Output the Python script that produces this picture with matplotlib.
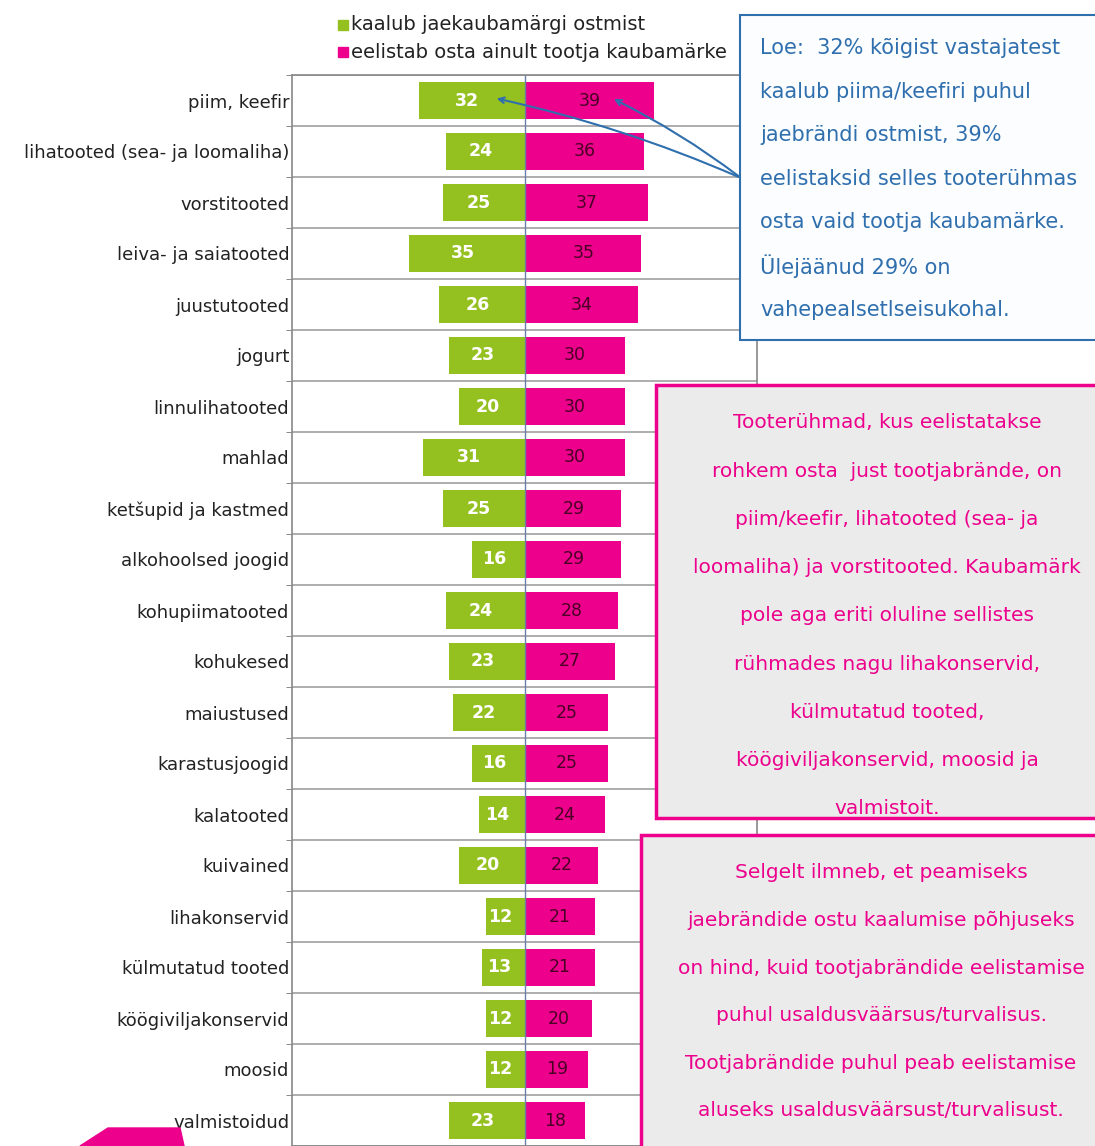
import matplotlib.pyplot as plt
import matplotlib.patches as patches
import numpy as np

plt.rcParams['font.family'] = 'DejaVu Sans'

categories = ["piim, keefir", "lihatooted (sea- ja loomaliha)", "vorstitooted",
              "leiva- ja saiatooted", "juustutooted", "jogurt", "linnulihatooted",
              "mahlad", "ketšupid ja kastmed", "alkohoolsed joogid", "kohupiimatooted",
              "kohukesed", "maiustused", "karastusjoogid", "kalatooted", "kuivained",
              "lihakonservid", "külmutatud tooted", "köögiviljakonservid", "moosid",
              "valmistoidud"]
store_brand = [32, 24, 25, 35, 26, 23, 20, 31, 25, 16, 24, 23, 22, 16, 14, 20, 12, 13, 12, 12, 23]
producer_brand = [39, 36, 37, 35, 34, 30, 30, 30, 29, 29, 28, 27, 25, 25, 24, 22, 21, 21, 20, 19, 18]
legend_labels = ["kaalub jaekaubamärgi ostmist", "eelistab osta ainult tootja kaubamärke"]

GREEN = '#94c11f'
PINK = '#ec008c'
BLUE = '#2f6fae'
W, H = 1095, 1146


def fx(x):
    return x / W


def fy(y):
    return 1 - y / H


fig = plt.figure(figsize=(W / 100, H / 100), dpi=100)
ax = fig.add_axes([fx(292), 0, fx(757) - fx(292), fy(75)])

y = np.arange(len(categories))
ax.barh(y, -np.array(store_brand), height=0.72, color=GREEN, zorder=2)
ax.barh(y, producer_brand, height=0.72, color=PINK, zorder=2)

for i, (g, p) in enumerate(zip(store_brand, producer_brand)):
    ax.text(-g / 2 - 1.5, i, str(g), ha='center', va='center', color='white',
            fontsize=12.5, fontweight='bold', zorder=3)
    ax.text(p / 2, i, str(p), ha='center', va='center', color='#4a0025',
            fontsize=12.5, zorder=3)

ax.set_xlim(-70.5, 70)
ax.set_ylim(len(categories) - 0.5, -0.5)
ax.set_yticks(y)
ax.set_yticklabels(categories, fontsize=13, color='#222222')
ax.set_yticks(np.arange(len(categories) + 1) - 0.5, minor=True)
ax.tick_params(axis='y', which='major', length=0, pad=2)
ax.tick_params(axis='y', which='minor', length=4, color='#777777')
ax.set_xticks([])
ax.grid(axis='y', which='minor', color='#a0a0a0', linewidth=1.2, zorder=1)
ax.axvline(0, color='#6a7fa8', linewidth=1, zorder=2.5)
for s in ax.spines.values():
    s.set_color('#888888')
    s.set_linewidth(1.2)

# legend
fig.add_artist(patches.Rectangle((fx(338), fy(30)), fx(10), 10 / H, color=GREEN,
                                 transform=fig.transFigure))
fig.add_artist(patches.Rectangle((fx(338), fy(57)), fx(10), 10 / H, color=PINK,
                                 transform=fig.transFigure))
fig.text(fx(351), fy(25), legend_labels[0], fontsize=14, va='center', color='#222222')
fig.text(fx(351), fy(52), legend_labels[1], fontsize=14, va='center', color='#222222')

# explanation box (blue)
fig.add_artist(patches.Rectangle((fx(740), fy(340)), fx(400), 325 / H, facecolor='#fbfdff',
                                 edgecolor=BLUE, linewidth=1.5, transform=fig.transFigure,
                                 zorder=4))
blue_lines = ["Loe:  32% kõigist vastajatest", "kaalub piima/keefiri puhul",
              "jaebrändi ostmist, 39%", "eelistaksid selles tooterühmas",
              "osta vaid tootja kaubamärke.", "Ülejäänud 29% on",
              "vahepealsetlseisukohal."]
for k, line in enumerate(blue_lines):
    fig.text(fx(760), fy(48 + k * 43.6), line, fontsize=15, color=BLUE,
             va='center', ha='left', zorder=5)

# arrows from the box to the first row
for xv in [-9.5, 26]:
    ax.annotate('', xy=(xv, -0.05), xycoords='data',
                xytext=(fx(741), fy(178)), textcoords='figure fraction',
                arrowprops=dict(arrowstyle='->', color=BLUE, linewidth=1.5,
                                connectionstyle='arc3,rad=0.05'), zorder=6)

# pink boxes
fig.add_artist(patches.Rectangle((fx(656), fy(818)), fx(500), 433 / H, facecolor='#ebebeb',
                                 edgecolor=PINK, linewidth=2.5, transform=fig.transFigure,
                                 zorder=4))
pink_lines1 = ["Tooterühmad, kus eelistatakse", "rohkem osta  just tootjabrände, on",
               "piim/keefir, lihatooted (sea- ja", "loomaliha) ja vorstitooted. Kaubamärk",
               "pole aga eriti oluline sellistes", "rühmades nagu lihakonservid,",
               "külmutatud tooted,", "köögiviljakonservid, moosid ja", "valmistoit."]
for k, line in enumerate(pink_lines1):
    fig.text(fx(887), fy(423 + k * 48.2), line, fontsize=14.5, color=PINK,
             va='center', ha='center', zorder=5)

fig.add_artist(patches.Rectangle((fx(641), fy(1160)), fx(500), 325 / H, facecolor='#ebebeb',
                                 edgecolor=PINK, linewidth=2.5, transform=fig.transFigure,
                                 zorder=4))
pink_lines2 = ["Selgelt ilmneb, et peamiseks", "jaebrändide ostu kaalumise põhjuseks",
               "on hind, kuid tootjabrändide eelistamise", "puhul usaldusväärsus/turvalisus.",
               "Tootjabrändide puhul peab eelistamise", "aluseks usaldusväärsust/turvalisust."]
for k, line in enumerate(pink_lines2):
    fig.text(fx(881), fy(873 + k * 47.6), line, fontsize=14.5, color=PINK,
             va='center', ha='center', zorder=5)

# logo fragment bottom left
logo = patches.Polygon([(fx(80), fy(1146)), (fx(108), fy(1128)), (fx(180), fy(1128)),
                        (fx(184), fy(1146))], closed=True, color=PINK,
                       transform=fig.transFigure)
fig.add_artist(logo)

fig.savefig('out.png', dpi=100)
